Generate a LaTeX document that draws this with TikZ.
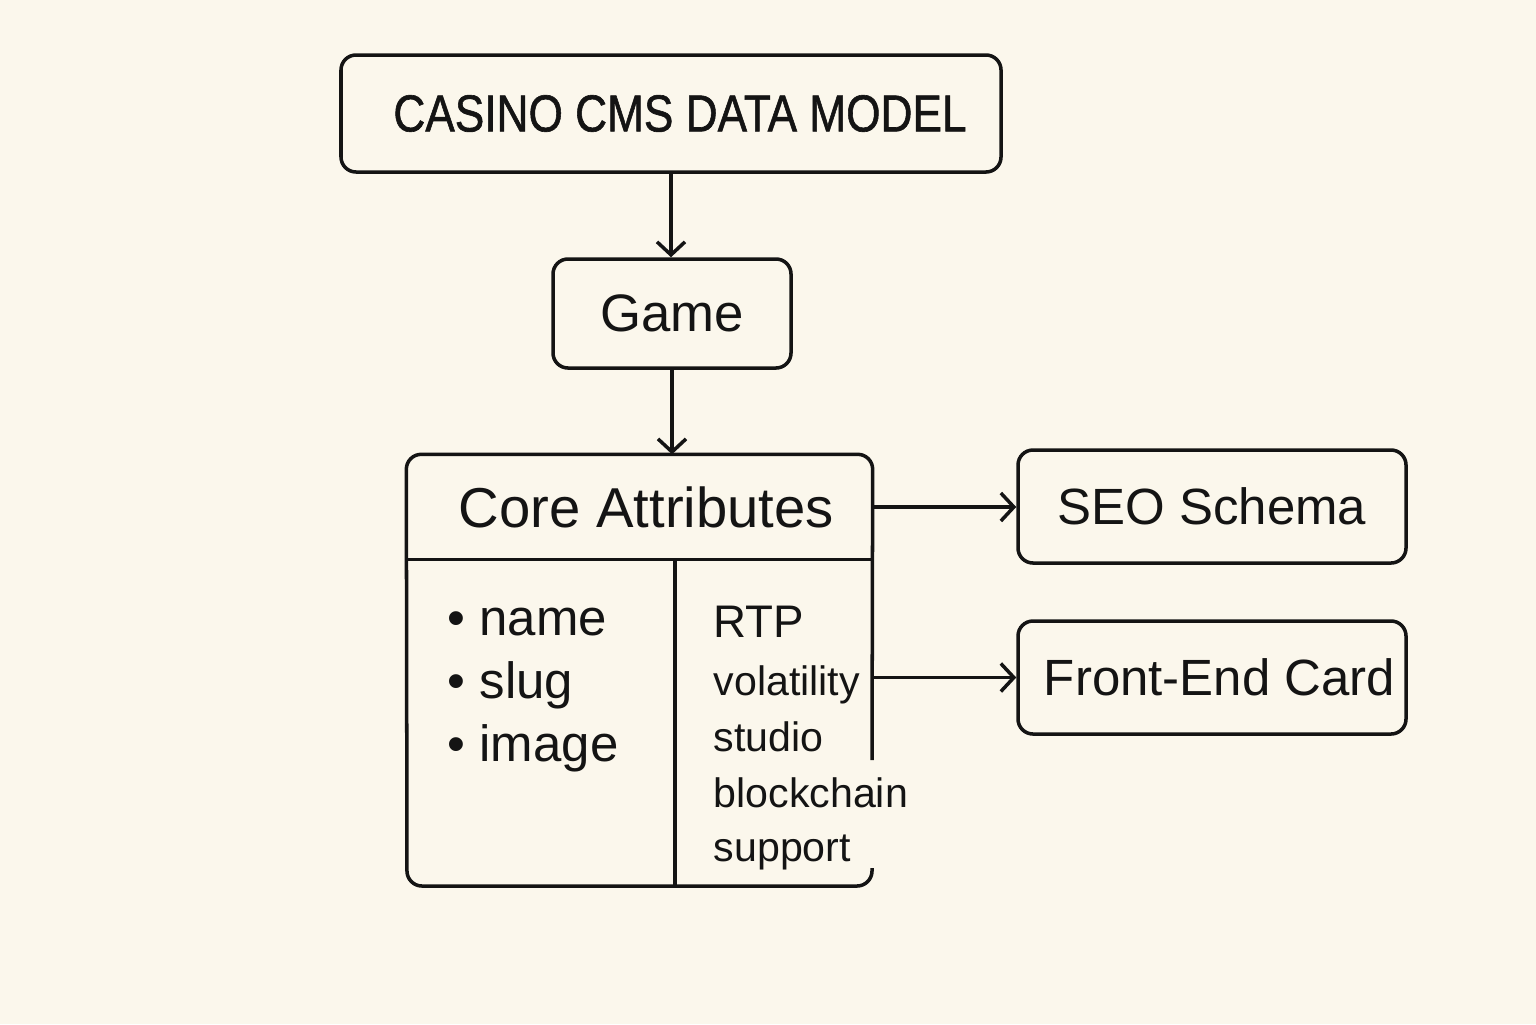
\documentclass[tikz,border=0pt]{standalone}
\usepackage{fontspec}
\setmainfont{Liberation Sans}
\newfontfamily\headfont[FakeBold=1.2]{Liberation Sans}
\usepackage{graphicx}
\usetikzlibrary{arrows.meta}
\definecolor{Paper}{HTML}{FBF7EC}
\definecolor{Ink}{HTML}{141414}
\tikzset{box/.style={rectangle,rounded corners=0.15cm,draw=Ink,line width=1pt,align=center,text=Ink,inner sep=0pt},link/.style={draw=Ink,line width=1pt,-{Straight Barb[length=1.3mm,width=2.8mm]}},item/.style={anchor=base west,text=Ink,inner sep=0pt}}

\begin{document}
\begin{tikzpicture}[x=1cm,y=1cm]
\fill[Paper] (0,0) rectangle (15.36,-10.24);
\node[box,minimum width=6.60cm,minimum height=1.17cm] (title) at (6.71,-1.135) {\hspace*{0.18cm}\fontsize{14.8}{18}\headfont\scalebox{0.85}[1]{CASINO CMS DATA MODEL}};
\node[box,minimum width=2.38cm,minimum height=1.09cm,font=\fontsize{15}{18}\selectfont] (game) at (6.72,-3.135) {Game};
\node[rectangle,minimum width=4.65cm,minimum height=1.04cm,inner sep=0pt,text=Ink,font=\fontsize{16}{19}\selectfont] (core) at (6.395,-5.07) {\hspace*{0.14cm}Core Attributes};
\node[box,minimum width=3.88cm,minimum height=1.13cm,font=\fontsize{14.5}{17}\selectfont] (seo) at (12.12,-5.065) {SEO Schema};
\node[box,minimum width=3.88cm,minimum height=1.13cm,font=\fontsize{14.5}{17}\selectfont] (front) at (12.12,-6.775) {\hspace*{0.15cm}Front-End Card};
% table frame, open on the right below the second link
\draw[Ink,line width=1pt,rounded corners=0.15cm] (8.72,-7.60) -- (core.north east) -- (core.north west) -- (4.07,-8.86) -- (8.72,-8.86) -- (8.72,-8.68);
\draw[Ink,line width=1pt] (core.south west) -- (core.south east);
\draw[Ink,line width=1pt] (6.75,-5.59) -- (6.75,-8.86);
\foreach \word [count=\i] in {name,slug,image} \node[item,font=\fontsize{14.5}{17}\selectfont] (left\i) at (4.47,{-6.35-0.63*(\i-1)}) {\textbullet\ \word};
\node[item,font=\fontsize{13}{16}\selectfont] (rtp) at (7.13,-6.37) {RTP};
\foreach \word/\y [count=\i] in {volatility/6.95,studio/7.51,blockchain/8.07,support/8.61} \node[item,font=\fontsize{11.7}{14}\selectfont] (right\i) at (7.13,-\y) {\word};
\draw[link] (title.south) -- (title.south |- game.north);
\draw[link] (game.south) -- (game.south |- core.north);
\draw[link] (core.east) -- (core.east -| seo.west);
\draw[link] (front.west -| core.east) -- (front.west);
\end{tikzpicture}
\end{document}
